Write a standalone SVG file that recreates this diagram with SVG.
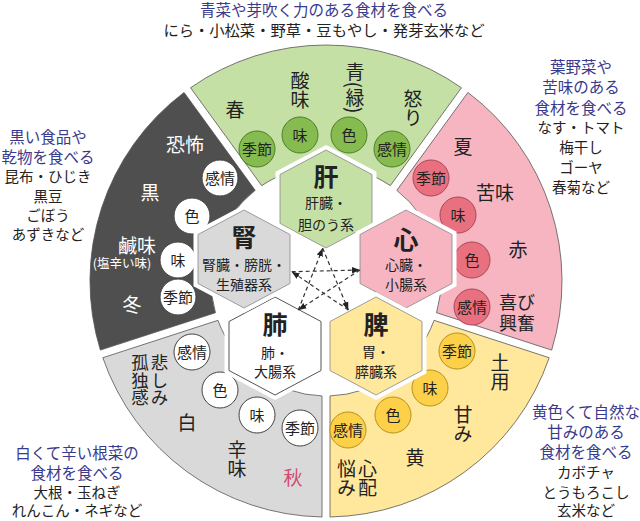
<svg xmlns="http://www.w3.org/2000/svg" xmlns:xlink="http://www.w3.org/1999/xlink" width="640" height="521" viewBox="0 0 640 521">
<style>
.t{font-family:"Noto Sans CJK JP","Noto Sans CJK SC",sans-serif;fill:#222;text-anchor:middle}
.lbl{font-size:19px}
.cl{font-size:15px}
.ht{font-size:25px;font-weight:bold}
.hs{font-size:14px}
.nv{font-size:15.5px;fill:#3a3a8c}
.bk{font-size:14.5px}
.v{writing-mode:vertical-rl}
.w{fill:#fff}
.sec{stroke:#555;stroke-width:0.8}
.halo{fill:none;stroke:#fff;stroke-width:9}
.hx{stroke:#888;stroke-width:0.8}
.cg{fill:#86bb4f;stroke:#4e7d2a;stroke-width:1}
.cp{fill:#e9717f;stroke:#a8485a;stroke-width:1}
.cy{fill:#fcd048;stroke:#b8921e;stroke-width:1}
.cw{fill:#fff;stroke:#444;stroke-width:1}
.dash{stroke:#333;stroke-width:1.2;stroke-dasharray:4 3;fill:none}
</style>
<defs>
<path id="hex" d="M0,-49 L46,-24.5 L46,24.5 L0,49 L-46,24.5 L-46,-24.5 Z"/>
<marker id="ah" viewBox="0 0 10 10" refX="10" refY="5" markerWidth="8" markerHeight="8" markerUnits="userSpaceOnUse" orient="auto"><path d="M0,1 L10,5 L0,9 Z" fill="#222"/></marker>
</defs>
<rect width="640" height="521" fill="#fff"/>

<g id="notes">
<text class="t nv" x="324" y="16">青菜や芽吹く力のある食材を食べる</text>
<text class="t bk" x="324" y="35.5" style="font-size:15.3px">にら・小松菜・野草・豆もやし・発芽玄米など</text>
<text class="t nv" x="581" y="72.5">葉野菜や</text>
<text class="t nv" x="581" y="92.5">苦味のある</text>
<text class="t nv" x="581" y="113.5">食材を食べる</text>
<text class="t bk" x="581" y="133">なす・トマト</text>
<text class="t bk" x="581" y="153">梅干し</text>
<text class="t bk" x="581" y="172.5">ゴーヤ</text>
<text class="t bk" x="581" y="193">春菊など</text>
<text class="t nv" x="586" y="417.5">黄色くて自然な</text>
<text class="t nv" x="586" y="437.5">甘みのある</text>
<text class="t nv" x="586" y="457.5">食材を食べる</text>
<text class="t bk" x="586" y="478">カボチャ</text>
<text class="t bk" x="586" y="497.5">とうもろこし</text>
<text class="t bk" x="586" y="516">玄米など</text>
<text class="t nv" x="77" y="458.5">白くて辛い根菜の</text>
<text class="t nv" x="77" y="478.5">食材を食べる</text>
<text class="t bk" x="77" y="497.5">大根・玉ねぎ</text>
<text class="t bk" x="77" y="516">れんこん・ネギなど</text>
<text class="t nv" x="48" y="142.5">黒い食品や</text>
<text class="t nv" x="48" y="162.5">乾物を食べる</text>
<text class="t bk" x="48" y="182">昆布・ひじき</text>
<text class="t bk" x="48" y="202">黒豆</text>
<text class="t bk" x="48" y="220.5">ごぼう</text>
<text class="t bk" x="48" y="240">あずきなど</text>
</g>

<g id="sector-wood">
<path class="sec" fill="#c5e0a5" d="M190.54,87.75 A236,236 0 0 1 461.46,87.75 L390.32,185.67 A115,115 0 0 0 261.68,185.67 Z"/>
<text class="t lbl" x="235" y="117">春</text>
<text class="t lbl v" x="300" y="90">酸味</text>
<text class="t lbl v" x="355" y="88">青(緑)</text>
<text class="t lbl v" x="413" y="108">怒り</text>
<circle class="cg" cx="257" cy="149" r="18"/><text class="t cl" x="257" y="154.5">季節</text>
<circle class="cg" cx="300" cy="135" r="18"/><text class="t cl" x="300" y="140.5">味</text>
<circle class="cg" cx="349" cy="135" r="18"/><text class="t cl" x="349" y="140.5">色</text>
<circle class="cg" cx="392" cy="149" r="18"/><text class="t cl" x="392" y="154.5">感情</text>
</g>

<g id="sector-fire">
<path class="sec" fill="#f6b5c1" d="M467.94,92.45 A236,236 0 0 1 551.66,350.12 L436.54,312.71 A115,115 0 0 0 396.79,190.37 Z"/>
<text class="t lbl" x="463" y="154">夏</text>
<text class="t lbl" x="495" y="200">苦味</text>
<text class="t lbl" x="518" y="257">赤</text>
<text class="t lbl" x="517" y="308.5" style="font-size:18px">喜び</text>
<text class="t lbl" x="517" y="329.5" style="font-size:18px">興奮</text>
<circle class="cp" cx="431" cy="178" r="18"/><text class="t cl" x="431" y="183.5">季節</text>
<circle class="cp" cx="458" cy="215" r="18"/><text class="t cl" x="458" y="220.5">味</text>
<circle class="cp" cx="472" cy="260" r="18"/><text class="t cl" x="472" y="265.5">色</text>
<circle class="cp" cx="472" cy="307" r="18"/><text class="t cl" x="472" y="312.5">感情</text>
</g>

<g id="sector-earth">
<path class="sec" fill="#ffe79b" d="M549.18,357.72 A236,236 0 0 1 330,516.97 L330,395.93 A115,115 0 0 0 434.07,320.32 Z"/>
<text class="t lbl v" x="500" y="372">土用</text>
<text class="t lbl v" x="463" y="424">甘み</text>
<text class="t lbl" x="415" y="465">黄</text>
<text class="t lbl v" x="367.5" y="478">心配</text>
<text class="t lbl v" x="346.5" y="478">悩み</text>
<circle class="cy" cx="457" cy="351" r="18"/><text class="t cl" x="457" y="356.5">季節</text>
<circle class="cy" cx="430" cy="388" r="18"/><text class="t cl" x="430" y="393.5">味</text>
<circle class="cy" cx="393" cy="415" r="18"/><text class="t cl" x="393" y="420.5">色</text>
<circle class="cy" cx="348" cy="430" r="18"/><text class="t cl" x="348" y="435.5">感情</text>
</g>

<g id="sector-metal">
<path class="sec" fill="#d9d9d9" d="M322,516.97 A236,236 0 0 1 102.82,357.72 L217.93,320.32 A115,115 0 0 0 322,395.93 Z"/>
<text class="t lbl v" x="159.5" y="380" style="font-size:17.5px">悲しみ</text>
<text class="t lbl v" x="140" y="380" style="font-size:17.5px">孤独感</text>
<text class="t lbl" x="187" y="430">白</text>
<text class="t lbl v" x="237" y="459">辛味</text>
<text class="t lbl" x="293" y="485" style="fill:#d44a72">秋</text>
<circle class="cw" cx="192" cy="352" r="18"/><text class="t cl" x="192" y="357.5">感情</text>
<circle class="cw" cx="220" cy="390" r="18"/><text class="t cl" x="220" y="395.5">色</text>
<circle class="cw" cx="257" cy="415" r="18"/><text class="t cl" x="257" y="420.5">味</text>
<circle class="cw" cx="300" cy="428" r="18"/><text class="t cl" x="300" y="433.5">季節</text>
</g>

<g id="sector-water">
<path class="sec" fill="#4f4f4f" d="M100.34,350.12 A236,236 0 0 1 184.06,92.45 L255.21,190.37 A115,115 0 0 0 215.45,312.71 Z"/>
<text class="t lbl w" x="185" y="152">恐怖</text>
<text class="t lbl w" x="150" y="200">黒</text>
<text class="t lbl w" x="137" y="252.5">鹹味</text>
<text class="t w" x="122" y="268" style="font-size:12.5px">(塩辛い味)</text>
<text class="t lbl w" x="132" y="312">冬</text>
<circle class="cw" cx="220" cy="178" r="18"/><text class="t cl" x="220" y="183.5">感情</text>
<circle class="cw" cx="192" cy="216" r="18"/><text class="t cl" x="192" y="221.5">色</text>
<circle class="cw" cx="178" cy="260" r="18"/><text class="t cl" x="178" y="265.5">味</text>
<circle class="cw" cx="178" cy="297" r="18"/><text class="t cl" x="178" y="302.5">季節</text>
</g>

<g id="node-liver">
<use xlink:href="#hex" x="326" y="199" class="halo"/>
<use xlink:href="#hex" x="326" y="199" class="hx" fill="#c5e0a5"/>
<text class="t ht" x="326" y="186">肝</text>
<text class="t hs" x="326" y="208">肝臓・</text>
<text class="t hs" x="326" y="230">胆のう系</text>
</g>

<g id="node-heart">
<use xlink:href="#hex" x="406" y="259" class="halo"/>
<use xlink:href="#hex" x="406" y="259" class="hx" fill="#f6b5c1"/>
<text class="t ht" x="406" y="249">心</text>
<text class="t hs" x="406" y="270">心臓・</text>
<text class="t hs" x="406" y="290">小腸系</text>
</g>

<g id="node-spleen">
<use xlink:href="#hex" x="376" y="346" class="halo"/>
<use xlink:href="#hex" x="376" y="346" class="hx" fill="#ffe79b"/>
<text class="t ht" x="376" y="334">脾</text>
<text class="t hs" x="376" y="357">胃・</text>
<text class="t hs" x="376" y="377">膵臓系</text>
</g>

<g id="node-lung">
<use xlink:href="#hex" x="275" y="346" class="halo"/>
<use xlink:href="#hex" x="275" y="346" fill="#fff" stroke="#555" stroke-width="1"/>
<text class="t ht" x="275" y="334">肺</text>
<text class="t hs" x="275" y="358">肺・</text>
<text class="t hs" x="275" y="377">大腸系</text>
</g>

<g id="node-kidney">
<use xlink:href="#hex" x="244" y="259" class="halo"/>
<use xlink:href="#hex" x="244" y="259" class="hx" fill="#d9d9d9"/>
<text class="t ht" x="244" y="247">腎</text>
<text class="t hs" x="244" y="270">腎臓・膀胱・</text>
<text class="t hs" x="244" y="290">生殖器系</text>
</g>

<g id="connectors">
<line class="dash" x1="298.3" y1="310" x2="322.7" y2="248.3" marker-end="url(#ah)"/>
<line class="dash" x1="322.7" y1="248.3" x2="348.3" y2="310" marker-end="url(#ah)"/>
<line class="dash" x1="348.3" y1="310" x2="291.7" y2="271.7" marker-end="url(#ah)"/>
<line class="dash" x1="291.7" y1="271.7" x2="360" y2="270" marker-end="url(#ah)"/>
<line class="dash" x1="360" y1="270" x2="298.3" y2="310" marker-end="url(#ah)"/>
</g>
</svg>
